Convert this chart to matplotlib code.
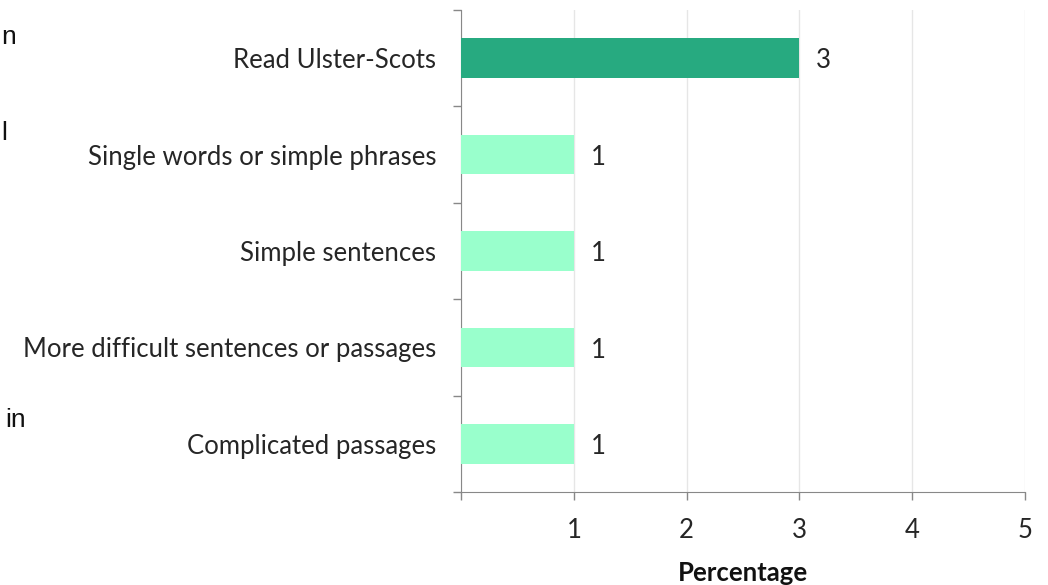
import matplotlib
matplotlib.use("Agg")
import matplotlib.pyplot as plt
import numpy as np

categories = [
    "Read Ulster-Scots",
    "Single words or simple phrases",
    "Simple sentences",
    "More difficult sentences or passages",
    "Complicated passages",
]
values = [3, 1, 1, 1, 1]
bar_colors = ["#27AA80", "#99FFCC", "#99FFCC", "#99FFCC", "#99FFCC"]
x_ticks = [0, 1, 2, 3, 4, 5]
x_tick_labels = ["", "1", "2", "3", "4", "5"]

plt.rcParams["font.family"] = ["Lato", "DejaVu Sans"]
FS = 18.5
TXT = "#262626"

fig = plt.figure(figsize=(10.48, 5.85), dpi=100)
ax = fig.add_axes([0.44, 0.159, 0.538, 0.824])

y = np.arange(len(categories))
ax.barh(y, values, height=0.41, color=bar_colors, zorder=3)
for yi, v in zip(y, values):
    ax.annotate(str(v), (v, yi), xytext=(12, -2), textcoords="offset points",
                va="center", ha="left", fontsize=FS, color=TXT)

ax.set_xlim(0, 5)
ax.set_ylim(len(categories) - 0.5, -0.5)
ax.set_xticks(x_ticks)
ax.set_xticklabels(x_tick_labels, fontsize=FS, color=TXT)
ax.set_yticks(y)
ax.set_yticklabels(categories, fontsize=FS, color=TXT)
ax.set_yticks(np.arange(-0.5, len(categories)), minor=True)
ax.tick_params(axis="y", which="major", length=0, pad=18)
ax.tick_params(axis="y", which="minor", length=6, color="#888888", width=1)
ax.tick_params(axis="x", length=6, color="#888888", width=1, pad=13)
ax.grid(axis="x", color="#e6e6e6", linewidth=1, zorder=0)

for side in ("top", "right"):
    ax.spines[side].set_visible(False)
for side in ("left", "bottom"):
    ax.spines[side].set_color("#888888")

ax.set_xlabel("Percentage", fontsize=FS, fontweight="bold", labelpad=13,
              color="#111111")

# cut-off text from the surrounding page
fig.text(0.001, 0.925, "n", fontsize=19, family="Liberation Sans", color="#111111")
fig.text(0.001, 0.76, "l", fontsize=19, family="Liberation Sans", color="#111111")
fig.text(0.005, 0.27, "in", fontsize=19, family="Liberation Sans", color="#111111")

fig.savefig("out.png", dpi=100, facecolor="white")
